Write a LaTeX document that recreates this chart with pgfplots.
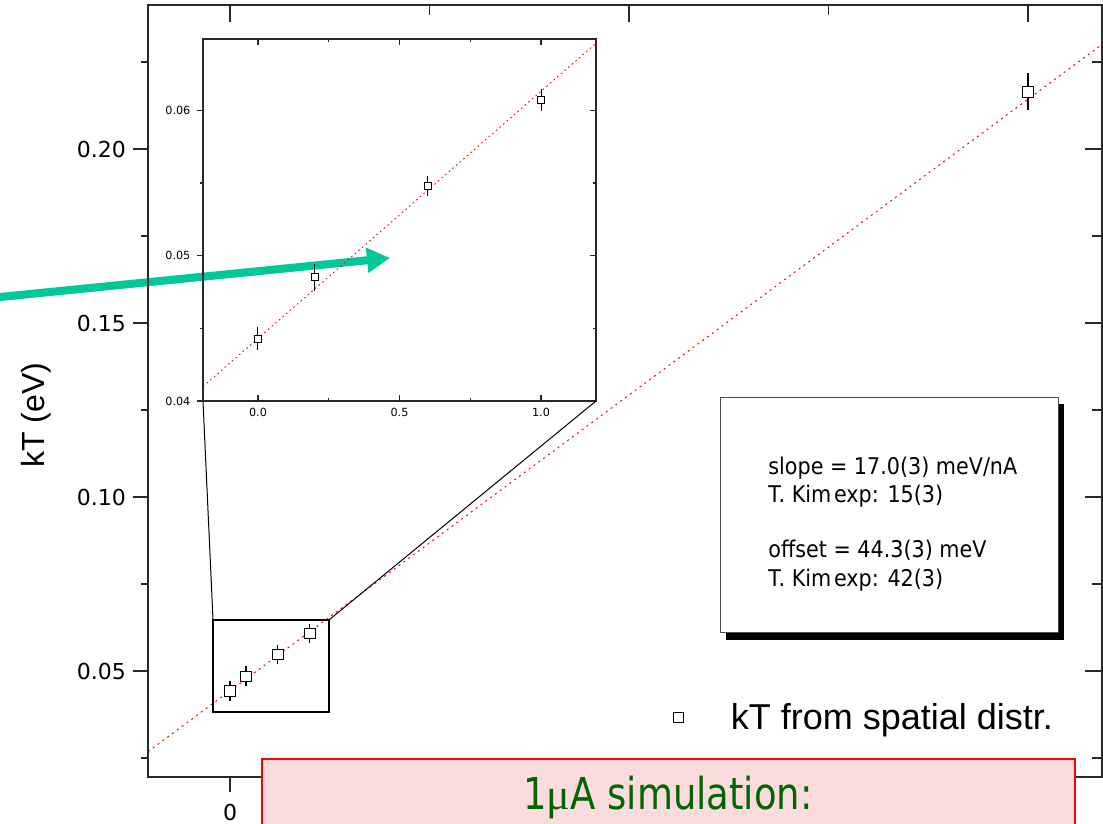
\documentclass[border=0pt]{standalone}
\usepackage{fontspec}
\setmainfont{DejaVu Sans}
\newfontfamily\arialf{Liberation Sans}
\newfontfamily\tahf[FakeStretch=0.9]{DejaVu Sans}
\newfontfamily\tahnarrow[FakeStretch=0.84]{DejaVu Sans}
\newfontfamily\serf{Liberation Serif}
\usepackage{pgfplots}
\usepackage{pgfplotstable}
\pgfplotsset{compat=1.18}
\usetikzlibrary{arrows.meta}

\definecolor{arrowteal}{RGB}{0,201,151}
\definecolor{boxpink}{RGB}{251,219,222}
\definecolor{simgreen}{RGB}{0,102,0}
\definecolor{axgray}{RGB}{40,40,40}

% kT from the spatial distribution, with its uncertainty
\pgfplotstableread{
x    y       ey
0.0  0.0443  0.0005
0.2  0.0485  0.0006
0.6  0.0548  0.0004
1.0  0.0607  0.00045
10.0 0.2164  0.0030
}\kTmain

\pgfplotsset{
  frame/.style={axis line style={axgray, line width=0.7pt},
    tick style={axgray, line width=0.6pt},
    scaled ticks=false, scale only axis, anchor=south west,
    /pgf/number format/assume math mode=true},
  mainbox/.style={frame, at={(74pt,23.5pt)}, width=477pt, height=386pt,
    xmin=-1.0276, xmax=10.927, ymin=0.01954, ymax=0.24138,
    xtick={0,5,10}, minor xtick={2.5,7.5},
    ytick={0.05,0.10,0.15,0.20}, minor ytick={0.025,0.075,0.125,0.175,0.225}},
  insetbox/.style={frame, at={(101.5pt,211.5pt)}, width=196.5pt, height=181pt,
    xmin=-0.1943, xmax=1.1943, ymin=0.0400, ymax=0.0649,
    ytick={0.04,0.05,0.06}, minor ytick={0.045,0.055}},
}

\begin{document}
\begin{tikzpicture}
\path[use as bounding box] (0,0) rectangle (551.5pt,412pt);
\clip (0,0) rectangle (551.5pt,412pt);

% pointer towards the magnified region
\draw[arrowteal, line width=4pt, -{Triangle[length=11.5pt, width=12pt]}]
  (-5pt,263pt) -- (195pt,283pt);

% main axis: data, labels, outward ticks on left and bottom
\begin{axis}[mainbox, name=main,
  xtick pos=left, ytick pos=left, tick align=outside,
  major tick length=7.5pt, minor tick length=3.5pt,
  xticklabels={0,{},{}},
  ticklabel style={font=\fontsize{11}{13}\selectfont},
  xticklabel style={yshift=-2.5pt},
  yticklabel style={/pgf/number format/fixed, /pgf/number format/fixed zerofill,
    /pgf/number format/precision=2},
  legend style={at={(axis cs:5.551,0.0365)}, anchor=west, draw=none, fill=none,
    font=\arialf\fontsize{18}{20}\selectfont, inner sep=0pt},
  legend cell align=left,
  legend image code/.code={
    \draw[black, line width=0.5pt] (-2.5pt,-2.5pt) rectangle (2.5pt,2.5pt);
    \path[draw=none] (-2.5pt,0pt) -- (24pt,0pt);},
]
\addplot[red, line width=0.5pt, dash pattern=on 1pt off 2pt, forget plot]
  coordinates {(-1.0276,0.026831) (10.927,0.230059)};
\addplot[only marks, mark=square*, mark size=2.6pt,
  mark options={draw=black, fill=white, line width=0.5pt},
  error bars/.cd, y dir=both, y explicit,
  error bar style={black, line width=0.6pt},
  error mark options={black, mark size=4pt, line width=0.6pt}]
  table[x=x, y=y, y error=ey]{\kTmain};
\addlegendentry{kT from spatial distr.}
\draw[black, line width=0.6pt] (axis cs:-0.213,0.03822) rectangle (axis cs:1.24,0.06466);
\coordinate (zl) at (axis cs:-0.213,0.06466);
\coordinate (zr) at (axis cs:1.24,0.06466);
\end{axis}

% main axis: inward ticks on top and right
\begin{axis}[mainbox,
  xtick pos=right, ytick pos=right, tick align=inside,
  major tick length=8.5pt, minor tick length=5pt,
  xticklabels={}, yticklabels={}]
\end{axis}

% inset: data and left ticks
\begin{axis}[insetbox, name=inset,
  xtick=\empty, minor xtick={},
  ytick pos=left, tick align=outside,
  major tick length=2.8pt, minor tick length=1.6pt,
  yticklabel style={font=\fontsize{5.6}{6.5}\selectfont,
    /pgf/number format/fixed, /pgf/number format/fixed zerofill,
    /pgf/number format/precision=2},
]
\addplot[red, line width=0.45pt, dash pattern=on 0.8pt off 1.6pt]
  coordinates {(-0.1943,0.0409969) (1.1943,0.0646031)};
\addplot[only marks, mark=square*, mark size=1.75pt,
  mark options={draw=black, fill=white, line width=0.45pt},
  restrict x to domain=-1:2,
  error bars/.cd, y dir=both, y explicit,
  error bar style={black, line width=0.5pt},
  error mark options={black, mark size=2.2pt, line width=0.5pt}]
  table[x=x, y=y, y error=ey]{\kTmain};
\coordinate (isw) at (rel axis cs:0,0);
\coordinate (ise) at (rel axis cs:1,0);
\end{axis}

% inset: bottom labels, inward ticks elsewhere
\begin{axis}[insetbox,
  xtick={0,0.5,1}, minor xtick={0.25,0.75},
  xtick pos=both, xticklabel pos=left, ytick pos=right, tick align=inside,
  yticklabels={},
  major tick length=3pt, minor tick length=1.7pt,
  xticklabel style={font=\fontsize{5.6}{6.5}\selectfont,
    /pgf/number format/fixed, /pgf/number format/fixed zerofill,
    /pgf/number format/precision=1},
]
\end{axis}

% lines joining the inset to the marked region
\draw[black, line width=0.5pt] (isw) -- (zl);
\draw[black, line width=0.5pt] (ise) -- (zr);

% fit results
\fill[black] (363pt,92pt) rectangle (532pt,210pt);
\draw[fill=white, draw=black!70, line width=0.5pt] (360pt,95.5pt) rectangle (529pt,213pt);
\begin{scope}[every node/.style={anchor=base west, inner sep=0pt,
    font=\tahf\fontsize{11.5}{14}\selectfont}]
\node at (384pt,174.5pt) {slope = 17.0(3) meV/nA};
\node at (384pt,160.5pt) {T. Kim\kern0.12em exp: 15(3)};
\node at (384pt,133pt) {offset = 44.3(3) meV};
\node at (384pt,118.5pt) {T. Kim\kern0.12em exp: 42(3)};
\end{scope}

% y-axis title
\node[rotate=90, font=\arialf\fontsize{16}{18}\selectfont] at (18pt,204.5pt) {kT (eV)};

% caption banner
\draw[fill=boxpink, draw=red, line width=0.8pt] (131pt,32.5pt) rectangle (537.5pt,-10pt);
\node[anchor=base, inner sep=0pt, text=simgreen,
  font=\tahnarrow\fontsize{22}{26}\selectfont] at (334pt,7pt) {1{\serf μ}A simulation:};
\end{tikzpicture}
\end{document}
